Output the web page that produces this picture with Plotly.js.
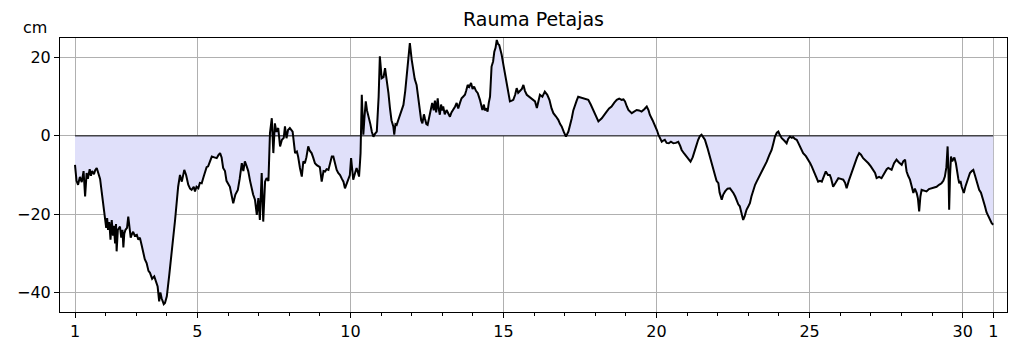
<!DOCTYPE html>
<html>
<head>
<meta charset="utf-8">
<script src="https://cdn.plot.ly/plotly-3.0.1.min.js"></script>
<style>
html,body{margin:0;padding:0;background:#fff;}
#chart{width:1019px;height:352px;}
</style>
</head>
<body>
<div id="chart"></div>
<script>
// Day of month (decimal) and sea level (cm)
const days = [
1.00,1.05,1.10,1.16,1.22,1.28,1.33,1.38,1.42,1.48,1.52,1.56,1.62,1.66,1.71,1.76,1.82,1.87,1.92,1.98,
2.02,2.05,2.08,2.12,2.16,2.20,2.24,2.27,2.31,2.34,2.36,2.40,2.44,2.47,2.51,2.55,2.58,2.61,2.65,2.70,
2.74,2.78,2.82,2.85,2.90,2.95,3.02,3.07,3.12,3.18,3.23,3.28,3.34,3.40,3.45,3.52,3.59,3.65,3.70,3.75,
3.79,3.83,3.87,3.90,3.94,4.00,4.08,4.16,4.27,4.37,4.43,4.49,4.57,4.63,4.70,4.76,4.81,4.88,4.92,4.97,
5.03,5.08,5.14,5.20,5.25,5.30,5.35,5.41,5.47,5.55,5.63,5.68,5.74,5.79,5.84,5.90,5.95,6.06,6.12,6.17,
6.24,6.32,6.38,6.45,6.50,6.55,6.61,6.66,6.72,6.77,6.82,6.88,6.94,6.99,7.04,7.10,7.15,7.21,7.26,7.32,
7.37,7.43,7.48,7.53,7.58,7.64,7.70,7.76,7.82,7.86,7.91,7.96,8.02,8.11,8.19,8.25,8.29,8.35,8.41,8.46,
8.51,8.56,8.62,8.67,8.73,8.78,8.84,8.90,8.95,9.00,9.06,9.12,9.17,9.22,9.28,9.34,9.39,9.44,9.50,9.55,
9.60,9.66,9.72,9.77,9.82,9.88,9.93,9.98,10.02,10.06,10.09,10.15,10.20,10.25,10.28,10.31,10.33,10.37,10.42,10.46,
10.50,10.54,10.58,10.65,10.70,10.75,10.80,10.86,10.92,10.96,11.02,11.08,11.13,11.18,11.24,11.29,11.34,11.40,11.43,11.47,
11.51,11.56,11.62,11.68,11.73,11.79,11.84,11.90,11.94,12.00,12.05,12.10,12.16,12.22,12.27,12.31,12.35,12.40,12.43,12.48,
12.52,12.56,12.60,12.64,12.67,12.72,12.76,12.80,12.85,12.88,12.92,12.96,13.00,13.03,13.08,13.14,13.20,13.25,13.30,13.36,
13.42,13.47,13.52,13.58,13.63,13.68,13.74,13.78,13.83,13.88,13.94,13.99,14.04,14.10,14.16,14.23,14.27,14.31,14.36,14.39,
14.44,14.48,14.52,14.56,14.61,14.66,14.70,14.74,14.78,14.82,14.86,14.90,14.94,15.00,15.05,15.10,15.16,15.21,15.27,15.32,
15.38,15.43,15.48,15.54,15.60,15.65,15.70,15.76,15.84,15.92,15.98,16.03,16.09,16.14,16.19,16.27,16.35,16.43,16.50,16.57,
16.63,16.71,16.79,16.85,16.90,16.97,17.04,17.12,17.17,17.23,17.28,17.33,17.39,17.44,17.52,17.61,17.69,17.77,17.85,17.93,
18.02,18.10,18.21,18.29,18.37,18.45,18.53,18.62,18.70,18.78,18.86,18.92,18.97,19.03,19.08,19.19,19.27,19.35,19.43,19.51,
19.60,19.68,19.74,19.78,19.87,19.95,20.01,20.06,20.12,20.17,20.22,20.27,20.33,20.40,20.47,20.55,20.63,20.71,20.77,20.82,
20.90,20.98,21.05,21.11,21.18,21.25,21.30,21.36,21.42,21.47,21.52,21.58,21.66,21.74,21.82,21.91,21.96,22.02,22.06,22.13,
22.18,22.24,22.32,22.40,22.46,22.51,22.57,22.62,22.67,22.72,22.78,22.83,22.88,22.94,23.00,23.05,23.10,23.16,23.22,23.27,
23.35,23.43,23.52,23.60,23.68,23.76,23.82,23.87,23.93,23.98,24.03,24.09,24.17,24.25,24.30,24.36,24.42,24.46,24.52,24.58,
24.63,24.69,24.74,24.79,24.88,24.96,25.02,25.07,25.12,25.18,25.23,25.28,25.34,25.40,25.46,25.53,25.60,25.66,25.70,25.77,
25.85,25.94,26.02,26.10,26.16,26.21,26.28,26.37,26.42,26.48,26.55,26.62,26.68,26.75,26.84,26.92,27.00,27.08,27.14,27.19,
27.27,27.35,27.40,27.46,27.52,27.57,27.63,27.68,27.76,27.84,27.92,28.01,28.06,28.12,28.15,28.17,28.22,28.28,28.34,28.39,
28.44,28.50,28.54,28.58,28.62,28.66,28.74,28.82,28.90,28.99,29.07,29.15,29.23,29.31,29.37,29.42,29.47,29.51,29.54,29.56,
29.59,29.62,29.66,29.69,29.73,29.78,29.82,29.86,29.89,29.93,29.97,30.04,30.09,30.13,30.18,30.24,30.30,30.35,30.40,30.43,
30.49,30.54,30.60,30.66,30.73,30.78,30.84,30.90,30.95,31.00
];
const level = [
-7.4,-11.5,-12.5,-10.5,-11.8,-9.0,-15.5,-9.5,-11.0,-8.5,-10.2,-9.0,-9.8,-8.8,-8.2,-9.5,-11.0,-14.2,-17.0,-20.6,
-23.5,-21.0,-24.0,-22.0,-26.5,-21.5,-25.5,-23.0,-27.5,-22.5,-29.5,-24.0,-23.5,-23.2,-26.0,-24.0,-28.5,-25.0,-24.0,-23.5,
-20.6,-24.5,-26.0,-25.3,-24.5,-25.5,-25.3,-26.5,-26.0,-28.0,-30.0,-31.5,-32.5,-34.5,-35.0,-36.5,-35.9,-37.5,-38.5,-42.3,
-40.0,-41.5,-42.3,-43.0,-42.7,-41.0,-35.5,-30.0,-21.5,-13.0,-10.0,-11.7,-8.7,-10.0,-12.5,-13.5,-13.8,-13.0,-14.2,-13.0,
-13.4,-12.0,-12.1,-10.5,-9.5,-8.0,-7.8,-6.5,-5.3,-5.5,-5.7,-5.0,-4.4,-5.5,-8.2,-9.0,-11.5,-13.0,-15.5,-17.2,
-15.0,-13.8,-11.0,-7.0,-9.0,-6.5,-7.8,-9.0,-11.5,-13.8,-15.0,-16.3,-20.2,-15.9,-21.5,-9.5,-21.9,-11.7,-10.8,-11.5,
0.7,4.5,-4.4,3.2,1.0,2.0,-2.7,-1.0,-0.5,2.4,-0.6,1.5,2.0,1.1,-4.4,-4.0,-5.3,-8.2,-10.4,-6.5,
-7.0,-5.5,-2.7,-3.8,-4.4,-5.5,-7.0,-7.5,-7.8,-8.0,-11.7,-9.0,-9.1,-8.5,-8.7,-7.0,-5.3,-5.3,-7.5,-8.7,
-9.5,-10.0,-11.0,-11.7,-13.4,-12.0,-11.2,-10.0,-5.7,-9.0,-11.2,-9.5,-8.2,-9.5,-10.4,-7.0,-4.4,10.5,0.3,5.0,
8.8,6.5,5.4,3.0,1.0,-0.2,0.5,1.1,10.0,20.3,14.7,15.0,17.3,14.7,11.0,7.1,4.0,2.4,0.3,3.0,
2.8,4.0,5.4,6.5,7.9,11.5,15.6,20.5,23.7,19.5,16.4,14.5,13.0,9.5,6.2,4.0,3.2,5.5,4.5,3.0,
2.8,4.5,5.8,7.5,8.4,6.5,9.0,6.0,9.6,7.0,5.4,8.0,6.5,7.5,5.5,6.6,5.5,4.9,6.0,6.6,
7.5,8.4,7.0,8.5,9.6,10.0,10.5,11.5,13.0,12.5,13.5,12.0,12.6,11.5,10.9,9.2,7.5,6.6,8.0,6.5,
7.0,6.2,8.5,10.0,17.7,19.0,21.5,22.5,24.5,23.5,23.2,22.0,20.7,18.0,15.6,13.0,10.9,8.8,9.0,9.2,
10.5,12.2,11.0,11.5,12.0,13.0,11.5,10.5,10.0,9.6,9.0,8.8,7.1,9.0,10.5,10.0,11.3,10.5,9.2,7.0,
5.8,5.0,4.1,3.0,2.4,1.0,-0.2,1.1,2.5,4.5,6.5,7.9,9.0,10.0,9.8,9.6,9.5,9.2,8.0,6.6,
5.0,3.7,4.5,5.5,6.2,7.0,7.5,8.5,9.2,9.5,9.2,9.3,8.8,7.5,6.6,5.8,6.2,6.6,6.5,6.2,
6.8,7.5,6.5,5.4,4.0,2.8,1.5,0.3,-0.8,-1.5,-1.2,-1.0,-1.8,-1.9,-1.5,-1.9,-1.8,-1.5,-2.5,-3.6,
-4.5,-5.3,-6.0,-6.6,-5.5,-4.0,-2.5,-1.0,0.0,0.3,-0.3,-1.0,-3.0,-5.3,-8.0,-10.4,-11.5,-12.1,-14.5,-16.3,
-15.0,-14.2,-13.5,-13.4,-14.0,-14.6,-15.5,-16.8,-17.5,-18.0,-20.0,-21.5,-20.5,-18.9,-18.0,-17.2,-15.5,-13.8,-12.5,-11.7,
-10.5,-9.5,-8.0,-6.6,-5.0,-3.6,-1.8,-0.2,0.8,1.1,0.2,-0.6,-1.2,-1.9,-0.8,-0.2,-0.5,-0.3,-0.8,-1.0,
-1.8,-2.7,-3.5,-4.4,-5.2,-6.1,-7.0,-7.8,-8.8,-10.0,-11.0,-11.7,-11.5,-11.7,-10.5,-9.1,-10.0,-10.0,-10.8,-13.0,
-12.0,-10.8,-11.0,-11.2,-12.0,-13.4,-11.5,-9.5,-8.0,-6.6,-5.5,-4.4,-4.8,-5.7,-6.3,-7.0,-7.8,-8.7,-9.5,-10.8,
-10.5,-10.8,-10.0,-9.1,-8.5,-8.2,-8.5,-8.7,-7.0,-6.1,-6.8,-7.4,-6.5,-6.1,-8.0,-9.1,-10.2,-11.2,-13.0,-14.6,
-13.5,-14.6,-16.0,-19.3,-15.5,-13.8,-14.0,-14.2,-13.6,-13.4,-13.2,-13.0,-12.5,-12.1,-11.5,-10.4,-8.0,-2.7,-10.0,-18.9,
-10.0,-5.3,-6.5,-6.1,-5.5,-7.0,-9.5,-11.0,-12.1,-11.5,-13.0,-14.6,-13.0,-12.1,-10.5,-9.5,-9.0,-8.7,-10.0,-10.8,
-12.5,-13.8,-14.5,-15.9,-18.0,-19.5,-20.6,-21.8,-22.3,-22.7
];
const xTickVals = [1, 5, 10, 15, 20, 25, 30, 31];
const xTickText = ['1', '5', '10', '15', '20', '25', '30', '1'];
const yTickVals = [-40, -20, 0, 20];
const titleText = 'Rauma Petajas';
const unitText = 'cm';

const font = 'DejaVu Sans, Liberation Sans, sans-serif';

const traces = [
  {
    x: days, y: level, type: 'scatter', mode: 'lines',
    fill: 'tozeroy', fillcolor: 'rgb(224,224,250)',
    line: {color: '#000', width: 2},
    hoverinfo: 'skip'
  }
];

const layout = {
  width: 1019, height: 352,
  margin: {l: 60, r: 12, t: 38, b: 40},
  paper_bgcolor: '#fff', plot_bgcolor: '#fff',
  showlegend: false,
  font: {family: font, size: 16, color: '#000'},
  title: {text: titleText, x: 0.5, xref: 'paper', y: 0.945, yref: 'container', yanchor: 'middle',
          font: {family: font, size: 19, color: '#000'}},
  xaxis: {
    range: [0.51, 31.45], tickmode: 'array', tickvals: xTickVals, ticktext: xTickText,
    ticks: 'outside', ticklen: 5, tickwidth: 1, tickcolor: '#000',
    showgrid: true, gridcolor: '#b0b0b0', gridwidth: 1,
    showline: true, linecolor: '#000', linewidth: 1, mirror: true,
    zeroline: false,
    minor: {tick0: 1, dtick: 1, ticks: 'outside', ticklen: 3, tickwidth: 1, tickcolor: '#000', showgrid: false},
    tickfont: {family: font, size: 16, color: '#000'}
  },
  yaxis: {
    range: [-45, 25], tickmode: 'array', tickvals: yTickVals,
    ticks: 'outside', ticklen: 5, tickwidth: 1, tickcolor: '#000',
    showgrid: true, gridcolor: '#b0b0b0', gridwidth: 1,
    showline: true, linecolor: '#000', linewidth: 1, mirror: true,
    zeroline: false,
    tickfont: {family: font, size: 16, color: '#000'}
  },
  shapes: [
    {type: 'line', xref: 'x', yref: 'y', x0: days[0], x1: days[days.length - 1], y0: 0, y1: 0,
     line: {color: '#000', width: 1}, layer: 'above'}
  ],
  annotations: [
    {text: unitText, xref: 'paper', yref: 'paper', x: -0.026, y: 1.038,
     xanchor: 'center', yanchor: 'middle', showarrow: false,
     font: {family: font, size: 16, color: '#000'}}
  ]
};

Plotly.newPlot('chart', traces, layout, {displayModeBar: false, staticPlot: true});
</script>
</body>
</html>
